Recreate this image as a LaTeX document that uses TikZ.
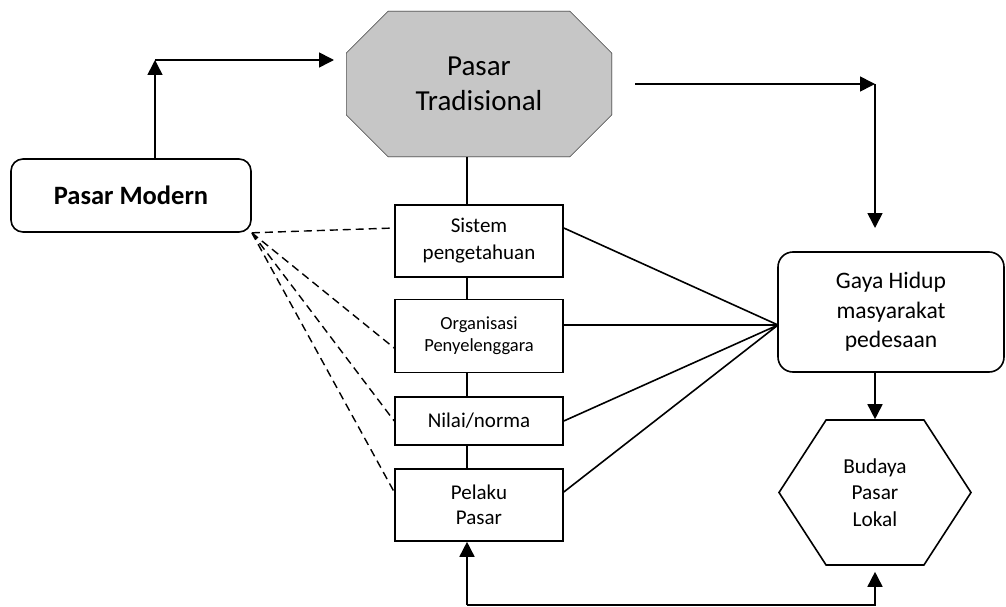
\documentclass[tikz,border=0pt]{standalone}
\usepackage{fontspec}
\setmainfont{Carlito}
\usetikzlibrary{arrows.meta,shapes.symbols,backgrounds}
\begin{document}
\begin{tikzpicture}[x=1pt,y=-1pt,line width=1.6pt,
	kotak/.style={draw,rectangle,minimum width=168pt,inner sep=0pt,align=center},
	panah/.style={-{Triangle[length=15pt,width=15pt]}},
	putus/.style={dash pattern=on 8pt off 5pt,line width=1.4pt}]
	\useasboundingbox (0,0) rectangle (1006,607);
	% simpul
	\node[draw,rounded corners=12pt,minimum width=240pt,minimum height=73pt,inner sep=0pt,
		font=\fontsize{26.5}{32}\selectfont\bfseries] (pm) at (131,195.5) {Pasar Modern};
	\node[minimum width=264pt,minimum height=144pt,inner sep=0pt,align=center,
		font=\fontsize{29}{35}\selectfont] (pt) at (479,84) {Pasar\\Tradisional};
	\node[kotak,minimum height=72pt,font=\fontsize{21}{27}\selectfont] (sp) at (479,241) {Sistem\\pengetahuan};
	\node[kotak,minimum height=73pt,font=\fontsize{18.5}{22}\selectfont] (op) at (479,336) {Organisasi\\Penyelenggara};
	\node[kotak,minimum height=48pt,font=\fontsize{21}{27}\selectfont] (nn) at (479,421) {Nilai/norma};
	\node[kotak,minimum height=72pt,font=\fontsize{21}{25}\selectfont] (pp) at (479,505) {Pelaku\\Pasar};
	\node[draw,rounded corners=15pt,minimum width=226pt,minimum height=120pt,inner sep=0pt,align=center,
		font=\fontsize{23.6}{29.5}\selectfont] (gh) at (891,312) {Gaya Hidup\\masyarakat\\pedesaan};
	\node[draw,signal,signal to=west and east,signal pointer angle=114,minimum width=192pt,minimum height=145pt,
		inner sep=0pt,align=center,font=\fontsize{21.3}{26.5}\selectfont] (bp) at (875,492.5) {Budaya\\Pasar\\Lokal};
	% segi delapan di belakang teks
	\begin{scope}[on background layer]
		\draw[fill=gray!45] ([xshift=42pt]pt.north west) -- ([xshift=-42pt]pt.north east)
			-- ([yshift=-42pt]pt.north east) -- ([yshift=42pt]pt.south east)
			-- ([xshift=-42pt]pt.south east) -- ([xshift=42pt]pt.south west)
			-- ([yshift=42pt]pt.south west) -- ([yshift=-42pt]pt.north west) -- cycle;
	\end{scope}
	% titik bantu
	\coordinate (c1) at (155,60);
	\coordinate (c2) at (334,60);
	\coordinate (t1) at (635,84);
	\coordinate (t2) at (875,84);
	\coordinate (t3) at (875,228);
	\coordinate (g) at (778,325);
	\coordinate (b1) at (467,605);
	\coordinate (b2) at (875,605);
	% panah
	\draw[panah] (pm.north -| c1) -- (c1);
	\draw[panah] (c1) -- (c2);
	\draw[panah] (t1) -- (t2);
	\draw[panah] (t2) -- (t3);
	\draw[panah] (gh.south -| bp.north) -- (bp.north);
	\draw[panah] (b1) -- (pp.south -| b1);
	\draw[panah] (b1) -- (b2) -- ([yshift=-6pt]bp.south);
	% garis tengah
	\draw (pt.south -| b1) -- (sp.north -| b1) (sp.south -| b1) -- (op.north -| b1)
		(op.south -| b1) -- (nn.north -| b1) (nn.south -| b1) -- (pp.north -| b1);
	\draw ([yshift=13pt]sp.east) -- (g) (op.east |- g) -- (g) (nn.east) -- (g) ([yshift=13pt]pp.east) -- (g);
	\draw[putus] (pm.south east) -- ([yshift=13pt]sp.west) (pm.south east) -- ([yshift=-12pt]op.west)
		(pm.south east) -- (nn.west) (pm.south east) -- ([yshift=13pt]pp.west);
\end{tikzpicture}
\end{document}
